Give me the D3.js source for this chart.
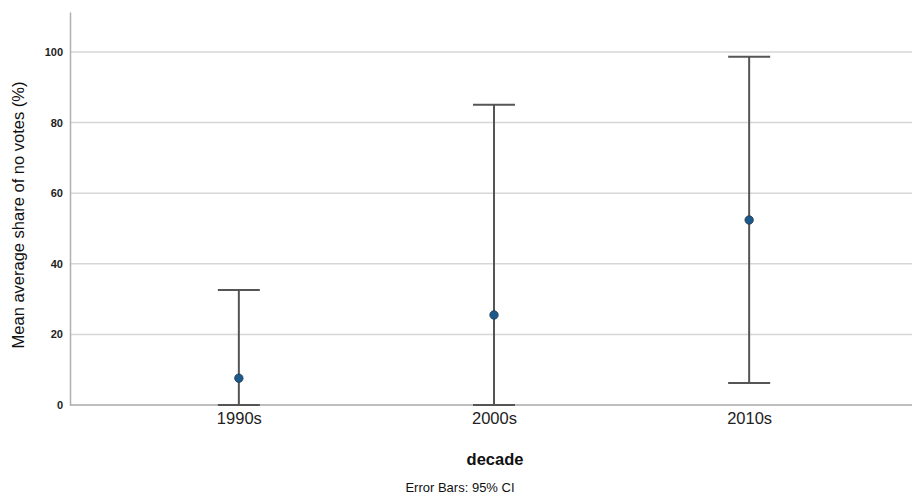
<!DOCTYPE html>
<html><head><meta charset="utf-8">
<script src="https://cdn.jsdelivr.net/npm/d3@7"></script>
<style>body{margin:0;background:#fff}svg{display:block}</style>
</head><body><svg id="c" width="912" height="497"></svg>
<script>
const categories = ["1990s", "2000s", "2010s"];
const means = [7.6, 25.5, 52.4];
const lower = [0, 0, 6.2];
const upper = [32.6, 85.0, 98.6];
const yTicks = [0, 20, 40, 60, 80, 100];

const svg = d3.select("#c");
const x = d3.scalePoint().domain(categories).range([73, 915]).padding(0.65);
const y = d3.scaleLinear().domain([0, 111.3]).range([405, 12]);

// gridlines
svg.append("g").selectAll("line").data(yTicks.filter(d => d > 0)).join("line")
  .attr("x1", 70).attr("x2", 912).attr("y1", d => y(d)).attr("y2", d => y(d))
  .attr("stroke", "#d6d6d6").attr("stroke-width", 1.5);

// y axis
const yAxis = svg.append("g").attr("transform", "translate(70,0)")
  .call(d3.axisLeft(y).tickValues(yTicks).tickSize(0).tickPadding(7));
yAxis.select(".domain").attr("stroke", "#b0b0b0").attr("stroke-width", 1.5);
yAxis.selectAll("text").attr("font-family", "Liberation Sans, Arial, sans-serif")
  .attr("font-size", 11).attr("font-weight", "bold").attr("fill", "#222");

// x axis
const xAxis = svg.append("g").attr("transform", "translate(0,405)")
  .call(d3.axisBottom(x).tickSize(0).tickPadding(7));
xAxis.select(".domain").attr("d", "M70,0H912").attr("stroke", "#a8a8a8").attr("stroke-width", 1.5);
xAxis.selectAll("text").attr("font-family", "Liberation Sans, Arial, sans-serif")
  .attr("font-size", 16.5).attr("fill", "#222");

// error bars
const capW = 21;
const g = svg.append("g");
categories.forEach((c, i) => {
  const cx = x(c);
  g.append("line").attr("x1", cx).attr("x2", cx).attr("y1", y(lower[i])).attr("y2", y(upper[i]))
    .attr("stroke", "#555").attr("stroke-width", 2);
  [lower[i], upper[i]].forEach(v => {
    g.append("line").attr("x1", cx - capW).attr("x2", cx + capW).attr("y1", y(v)).attr("y2", y(v))
      .attr("stroke", "#555").attr("stroke-width", 2);
  });
});
g.selectAll("circle").data(categories).join("circle")
  .attr("cx", d => x(d)).attr("cy", (d, i) => y(means[i])).attr("r", 4.2)
  .attr("fill", "#1d5a8c").attr("stroke", "#1a3550").attr("stroke-width", 0.8);

// labels
svg.append("text").attr("transform", "translate(24,215) rotate(-90)")
  .attr("text-anchor", "middle").attr("font-family", "Liberation Sans, Arial, sans-serif")
  .attr("font-size", 16.5).attr("fill", "#111").text("Mean average share of no votes (%)");
svg.append("text").attr("x", 495).attr("y", 465).attr("text-anchor", "middle")
  .attr("font-family", "Liberation Sans, Arial, sans-serif").attr("font-size", 16.5)
  .attr("font-weight", "bold").attr("fill", "#111").text("decade");
svg.append("text").attr("x", 460).attr("y", 492).attr("text-anchor", "middle")
  .attr("font-family", "Liberation Sans, Arial, sans-serif").attr("font-size", 13)
  .attr("fill", "#111").text("Error Bars: 95% CI");
</script></body></html>
